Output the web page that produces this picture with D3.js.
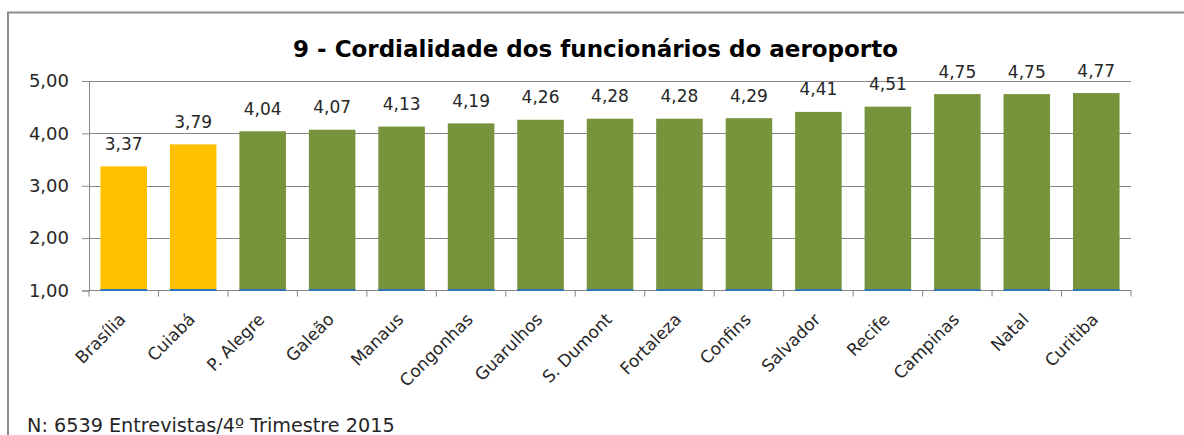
<!DOCTYPE html>
<html>
<head>
<meta charset="utf-8">
<script src="https://cdn.jsdelivr.net/npm/d3@7"></script>
<style>
  html, body { margin: 0; padding: 0; background: #fff; }
  svg { display: block; font-family: "DejaVu Sans", sans-serif; }
</style>
</head>
<body>
<svg id="chart" width="1184" height="435"></svg>
<script>
const categories = ["Brasília","Cuiabá","P. Alegre","Galeão","Manaus","Congonhas","Guarulhos","S. Dumont","Fortaleza","Confins","Salvador","Recife","Campinas","Natal","Curitiba"];
const values = [3.37,3.79,4.04,4.07,4.13,4.19,4.26,4.28,4.28,4.29,4.41,4.51,4.75,4.75,4.77];
const highlight = [true,true,false,false,false,false,false,false,false,false,false,false,false,false,false];
const yTicks = [1,2,3,4,5];
const title = "9 - Cordialidade dos funcionários do aeroporto";
const footnote = "N: 6539 Entrevistas/4º Trimestre 2015";

(function () {
const svg = d3.select("#chart");
const fmt = v => d3.format(".2f")(v).replace(".", ",");
// scale a text element's font-size so its rendered width matches a target width
function fitWidth(sel, target) {
  const node = sel.node();
  const fs = parseFloat(sel.attr("font-size"));
  const w = node.getComputedTextLength();
  if (w > 0) sel.attr("font-size", fs * target / w);
}

const pLeft = 89, pRight = 1131, pTop = 81, pBottom = 290.5;
const x = d3.scaleBand().domain(categories).range([pLeft, pRight]).paddingInner(0.33).paddingOuter(0.165);
const y = d3.scaleLinear().domain([1, 5]).range([pBottom, pTop]);

// frame
svg.append("path")
  .attr("d", `M8,435 L8,12.5 L1184,12.5`)
  .attr("fill", "none").attr("stroke", "#8c8c8c").attr("stroke-width", 2);

// gridlines
svg.append("g").selectAll("line").data(yTicks.slice(1)).join("line")
  .attr("x1", pLeft).attr("x2", pRight)
  .attr("y1", d => Math.round(y(d)) + 0.5).attr("y2", d => Math.round(y(d)) + 0.5)
  .attr("stroke", "#868686").attr("stroke-width", 1);

// y axis
const yAxis = d3.axisLeft(y).tickValues(yTicks).tickSize(7).tickFormat(fmt);
const gy = svg.append("g").attr("transform", `translate(${pLeft},0)`).call(yAxis);
gy.select(".domain").attr("stroke", "#868686");
gy.selectAll(".tick line").attr("stroke", "#868686");
gy.selectAll(".tick text").attr("font-size", 18).attr("fill", "#262626").attr("x", -20)
  .attr("font-family", "DejaVu Sans, sans-serif");

// x axis
const step = x.step();
const boundaries = d3.range(categories.length + 1).map(i => pLeft + i * step);
svg.append("line").attr("x1", pLeft).attr("x2", pRight)
  .attr("y1", pBottom).attr("y2", pBottom).attr("stroke", "#868686");
svg.append("g").selectAll("line").data(boundaries).join("line")
  .attr("x1", d => d).attr("x2", d => d)
  .attr("y1", pBottom).attr("y2", pBottom + 6).attr("stroke", "#868686");

// bars
svg.append("g").selectAll("rect").data(categories).join("rect")
  .attr("x", d => x(d))
  .attr("width", x.bandwidth())
  .attr("y", (d, i) => y(values[i]))
  .attr("height", (d, i) => y(1) - y(values[i]))
  .attr("fill", (d, i) => highlight[i] ? "#FFC000" : "#77933C");

// blue baseline segments
svg.append("g").selectAll("rect").data(categories).join("rect")
  .attr("x", d => x(d))
  .attr("width", x.bandwidth())
  .attr("y", y(1) - 1.5)
  .attr("height", 2)
  .attr("fill", "#2E75B6");

// category labels
svg.append("g").selectAll("text").data(categories).join("text")
  .attr("transform", d => `translate(${x(d) + x.bandwidth() / 2 + 3},${pBottom + 30}) rotate(-45)`)
  .attr("text-anchor", "end")
  .attr("font-size", 17)
  .attr("fill", "#262626")
  .text(d => d);

// value labels
svg.append("g").selectAll("text").data(categories).join("text")
  .attr("x", d => x(d) + x.bandwidth() / 2)
  .attr("y", (d, i) => y(values[i]) - 16.5)
  .attr("text-anchor", "middle")
  .attr("font-size", 17)
  .attr("fill", "#262626")
  .text((d, i) => fmt(values[i]));

// title
const t = svg.append("text").attr("x", 595.5).attr("y", 57).attr("text-anchor", "middle")
  .attr("font-size", 20).attr("font-weight", "bold").attr("fill", "#000")
  .text(title);
fitWidth(t, 605);

// footnote
const f = svg.append("text").attr("x", 27).attr("y", 431.5)
  .attr("font-size", 18).attr("fill", "#262626")
  .text(footnote);
fitWidth(f, 368);
})();
</script>
</body>
</html>
